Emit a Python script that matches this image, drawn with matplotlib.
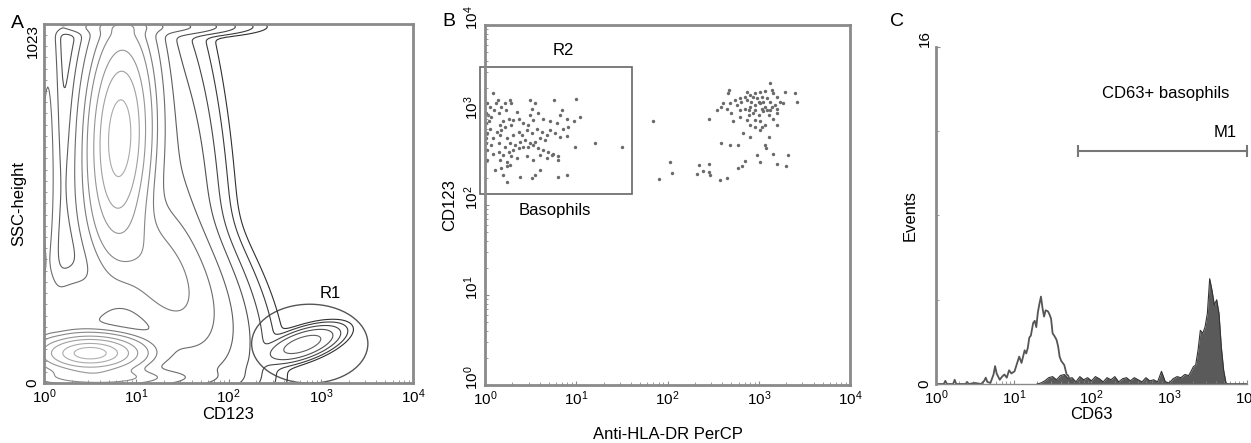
import numpy as np
import matplotlib
matplotlib.use("Agg")
import matplotlib.pyplot as plt
import matplotlib.transforms as mtransforms
from matplotlib.patches import Ellipse, Rectangle

plt.rcParams['font.family'] = ['Liberation Sans', 'DejaVu Sans']
plt.rcParams['mathtext.default'] = 'regular'

# log axes are drawn in decades (0..4 -> 10^0..10^4)
dec_ticks = [0, 1, 2, 3, 4]
dec_labels = ['$10^{0}$', '$10^{1}$', '$10^{2}$', '$10^{3}$', '$10^{4}$']

# ---- panel A: cell populations read off the SSC / CD123 contour plot
# centre (decades), centre (SSC), spread (decades), spread (SSC), correlation, peak weight
pop_x = [0.82, 0.50, 1.20, 2.80, 0.04, 0.35, 0.90, 1.45, 0.60]
pop_y = [700, 85, 330, 110, 600, 225, 1015, 520, 15]
pop_sx = [0.18, 0.30, 0.38, 0.17, 0.07, 0.25, 0.45, 0.22, 0.45]
pop_sy = [160, 28, 130, 22, 320, 55, 12, 260, 15]
pop_rho = [0.1, 0.0, -0.6, 0.6, 0.0, 0.0, 0.0, -0.3, 0.0]
pop_w = [1.0, 1.3, 0.12, 0.02, 0.04, 0.05, 0.03, 0.01, 0.2]
contour_levels = [1e-4, 3e-4, 1e-3, 3e-3, 0.01, 0.03, 0.08, 0.15, 0.3, 0.5, 0.8, 1.1]
r1_center = (2.88, 112)
r1_size = (1.26, 225)

# ---- panel B: events, anti-HLA-DR (decades) vs CD123 (decades)
baso_x = [0.09, 0.14, 0.12, 0.10, 0.05, 0.02, 0.03, 0.07, 0.15, 0.17, 0.22, 0.27, 0.29, 0.23, 0.35,
          0.49, 0.55, 0.51, 0.76, 1.00, 0.84, 0.82, 0.90, 1.04, 0.97, 0.91, 0.86, 0.79, 0.71, 0.64,
          0.58, 0.49, 0.53, 0.47, 0.42, 0.37, 0.31, 0.26, 0.20, 0.16, 0.22, 0.29, 0.18, 0.13, 0.05,
          0.02, 0.09, 0.16, 0.24, 0.31, 0.37, 0.40, 0.46, 0.51, 0.57, 0.62, 0.68, 0.71, 0.77, 0.82,
          0.90, 0.66, 0.60, 0.55, 0.49, 0.44, 0.38, 0.33, 0.27, 0.22, 0.15, 0.07, 0.02, 0.09, 0.15,
          0.20, 0.26, 0.31, 0.37, 0.42, 0.47, 0.53, 0.58, 0.64, 0.69, 0.75, 0.80, 0.99, 1.21, 1.50,
          0.16, 0.24, 0.29, 0.35, 0.46, 0.53, 0.60, 0.68, 0.73, 0.80, 0.18, 0.24, 0.27, 0.11, 0.60,
          0.55, 0.38, 0.51, 0.20, 0.24, 0.80, 0.90, 0.02, 0.01, 0.01, 0.01, 0.04, 0.01]
baso_y = [3.25, 3.17, 3.13, 3.06, 3.09, 3.13, 3.00, 2.98, 3.02, 3.09, 3.13, 3.17, 3.13, 3.06, 3.03,
          3.17, 3.13, 3.07, 3.17, 3.18, 3.06, 3.00, 2.96, 2.98, 2.93, 2.87, 2.85, 2.91, 2.93, 2.96,
          3.02, 3.00, 2.94, 2.89, 2.91, 2.96, 2.94, 2.96, 2.93, 2.89, 2.87, 2.89, 2.83, 2.81, 2.85,
          2.80, 2.74, 2.78, 2.74, 2.78, 2.81, 2.78, 2.83, 2.80, 2.85, 2.81, 2.78, 2.83, 2.80, 2.76,
          2.77, 2.72, 2.74, 2.70, 2.69, 2.72, 2.70, 2.67, 2.69, 2.65, 2.69, 2.67, 2.61, 2.57, 2.59,
          2.56, 2.59, 2.61, 2.63, 2.65, 2.64, 2.67, 2.63, 2.61, 2.59, 2.57, 2.54, 2.64, 2.69, 2.65,
          2.50, 2.48, 2.54, 2.52, 2.54, 2.50, 2.56, 2.52, 2.56, 2.50, 2.41, 2.43, 2.44, 2.39, 2.39,
          2.33, 2.31, 2.30, 2.33, 2.26, 2.31, 2.33, 2.50, 2.69, 2.91, 3.02, 2.93, 2.74]
hla_x = [3.12, 2.67, 2.66, 3.29, 3.40, 3.42, 1.84, 2.45, 2.54, 2.59, 2.68, 2.74, 2.79, 2.85, 2.90,
         2.96, 3.01, 3.07, 3.14, 3.16, 3.20, 3.23, 3.27, 2.76, 2.81, 2.87, 2.92, 2.98, 3.03, 3.09,
         3.12, 3.18, 2.79, 2.85, 2.90, 2.96, 3.01, 3.07, 3.12, 3.20, 2.70, 2.79, 2.89, 2.94, 3.00,
         3.05, 3.11, 3.16, 2.72, 2.90, 2.96, 3.03, 3.07, 3.20, 2.83, 2.90, 3.01, 3.11, 2.59, 2.68,
         2.77, 3.07, 3.08, 2.98, 3.16, 3.32, 2.85, 3.01, 3.20, 3.30, 2.77, 2.82, 2.03, 2.05, 1.91,
         2.34, 2.45, 2.39, 2.32, 2.45, 2.46, 2.58, 2.65, 2.61, 2.65, 2.87, 2.94, 3.00, 3.05, 3.14,
         3.20, 2.89, 2.96, 3.03, 3.09, 2.87, 2.96, 3.01]
hla_y = [3.36, 3.28, 3.25, 3.26, 3.25, 3.14, 2.93, 2.96, 3.06, 3.09, 3.13, 3.17, 3.19, 3.20, 3.22,
         3.24, 3.26, 3.27, 3.28, 3.24, 3.20, 3.15, 3.13, 3.11, 3.15, 3.17, 3.15, 3.19, 3.20, 3.19,
         3.15, 3.11, 3.06, 3.07, 3.09, 3.11, 3.13, 3.09, 3.06, 3.02, 3.02, 2.98, 3.00, 3.02, 3.00,
         3.04, 3.00, 2.96, 2.93, 2.89, 2.87, 2.87, 2.89, 2.89, 2.80, 2.76, 2.83, 2.76, 2.69, 2.67,
         2.67, 2.67, 2.63, 2.56, 2.57, 2.56, 2.49, 2.48, 2.46, 2.43, 2.41, 2.43, 2.48, 2.36, 2.29,
         2.44, 2.46, 2.38, 2.34, 2.37, 2.33, 2.28, 2.30, 3.13, 3.07, 3.26, 3.20, 3.15, 3.15, 3.09,
         3.07, 3.06, 3.06, 3.07, 3.06, 2.94, 2.94, 2.93]
r2_x = (-0.05, 1.61)
r2_y = (2.12, 3.53)

# ---- panel C: CD63 histograms (decades, events)
open_x = [0.00, 0.10, 0.12, 0.14, 0.22, 0.24, 0.26, 0.38, 0.40, 0.42, 0.50, 0.58, 0.62, 0.64, 0.66,
          0.70, 0.74, 0.76, 0.78, 0.82, 0.85, 0.88, 0.91, 0.94, 0.97, 1.01, 1.04, 1.07, 1.10, 1.14,
          1.16, 1.18, 1.20, 1.22, 1.25, 1.27, 1.29, 1.31, 1.33, 1.35, 1.37, 1.39, 1.41, 1.44, 1.46,
          1.48, 1.50, 1.52, 1.55, 1.57, 1.59, 1.61, 1.63, 1.65, 1.68, 1.70, 1.72, 1.74, 1.77, 4.00]
open_y = [0.0, 0.0, 0.15, 0.0, 0.0, 0.2, 0.0, 0.0, 0.1, 0.0, 0.05, 0.0, 0.15, 0.3, 0.1,
          0.05, 0.45, 0.85, 0.5, 0.2, 0.35, 0.45, 0.3, 0.65, 0.5, 0.6, 0.95, 1.3, 1.0, 1.6,
          1.45, 1.7, 2.2, 2.3, 2.9, 3.0, 2.7, 3.4, 3.8, 4.15, 3.6, 3.2, 3.5, 3.45, 3.3,
          3.1, 2.4, 2.3, 2.1, 1.8, 1.3, 1.1, 1.0, 0.9, 0.45, 0.4, 0.2, 0.1, 0.0, 0.0]
filled_x = [1.30, 1.35, 1.40, 1.45, 1.50, 1.55, 1.60, 1.65, 1.70, 1.75, 1.80, 1.85, 1.90, 1.95,
            2.00, 2.05, 2.10, 2.15, 2.20, 2.25, 2.30, 2.35, 2.40, 2.45, 2.50, 2.55, 2.60, 2.65,
            2.70, 2.75, 2.80, 2.85, 2.90, 2.95, 3.00, 3.05, 3.10, 3.15, 3.20, 3.25, 3.28, 3.31,
            3.34, 3.37, 3.40, 3.43, 3.46, 3.49, 3.52, 3.55, 3.58, 3.61, 3.64, 3.67, 3.70, 3.73, 3.76]
filled_y = [0.0, 0.05, 0.15, 0.3, 0.35, 0.2, 0.4, 0.45, 0.25, 0.3, 0.1, 0.35, 0.2, 0.3,
            0.15, 0.35, 0.25, 0.1, 0.3, 0.2, 0.35, 0.1, 0.25, 0.3, 0.15, 0.3, 0.2, 0.1,
            0.3, 0.15, 0.2, 0.1, 0.6, 0.1, 0.05, 0.25, 0.35, 0.3, 0.45, 0.4, 0.6, 0.82,
            0.9, 1.6, 2.55, 2.4, 2.7, 3.35, 5.0, 4.45, 3.75, 4.0, 3.35, 1.75, 0.65, 0.05, 0.0]
m1_x = (1.82, 4.0)
m1_y = 11.08

grey = '#8a8a8a'
fig = plt.figure(figsize=(12.51, 4.43), dpi=100)


def style_axes(ax, spines):
    for name, sp in ax.spines.items():
        sp.set_visible(name in spines)
        sp.set_color(grey)
        sp.set_linewidth(2)
    ax.tick_params(which='both', direction='in', color=grey, labelsize=11, pad=3)
    ax.tick_params(which='major', length=3)
    ax.tick_params(which='minor', length=2)


def log_xaxis(ax):
    ax.set_xlim(0, 4)
    ax.set_xticks(dec_ticks)
    ax.set_xticklabels(dec_labels)
    minor = [d + np.log10(k) for d in range(4) for k in range(2, 10)]
    ax.set_xticks(minor, minor=True)


# ---------------- A
axA = fig.add_axes([0.0352, 0.1354, 0.295, 0.8104])
gx = np.linspace(0, 4, 300)
gy = np.linspace(0, 1023, 300)
X, Y = np.meshgrid(gx, gy)
dens = np.zeros_like(X)
for cx, cy, sx, sy, r, w in zip(pop_x, pop_y, pop_sx, pop_sy, pop_rho, pop_w):
    dx = (X - cx) / sx
    dy = (Y - cy) / sy
    z = (dx**2 - 2 * r * dx * dy + dy**2) / (1 - r**2)
    dens += w * np.exp(-z / 2)
shades = ['#303030', '#3a3a3a', '#454545', '#505050', '#5e5e5e', '#6c6c6c',
          '#7a7a7a', '#888888', '#959595', '#a0a0a0', '#aaaaaa', '#b0b0b0']
axA.contour(X, Y, dens, levels=contour_levels, colors=shades, linewidths=0.8)
axA.add_patch(Ellipse(r1_center, r1_size[0], r1_size[1], fill=False,
                      edgecolor='#555555', lw=1.0, clip_on=False))
axA.text(3.1, 256, 'R1', fontsize=12, ha='center', va='center')
log_xaxis(axA)
axA.set_ylim(0, 1023)
axA.set_yticks([0, 1023])
axA.set_yticklabels(['0', '1023'], rotation=90)
axA.get_yticklabels()[0].set_va('center')
axA.get_yticklabels()[1].set_va('top')
axA.set_yticks(np.arange(0, 1023, 32), minor=True)
style_axes(axA, ['left', 'right', 'top', 'bottom'])
axA.set_xlabel('CD123', fontsize=12, labelpad=1)
axA.set_ylabel('SSC-height', fontsize=12, labelpad=0)

# ---------------- B
axB = fig.add_axes([0.3877, 0.1309, 0.2918, 0.8126])
axB.scatter(baso_x, baso_y, s=6, color='#6a6a6a', lw=0)
axB.scatter(hla_x, hla_y, s=6, color='#6a6a6a', lw=0)
axB.add_patch(Rectangle((r2_x[0], r2_y[0]), r2_x[1] - r2_x[0], r2_y[1] - r2_y[0],
                        fill=False, edgecolor='#666666', lw=1.2, clip_on=False))
axB.text(0.86, 3.72, 'R2', fontsize=12, ha='center', va='center')
axB.text(0.77, 1.94, 'Basophils', fontsize=12, ha='center', va='center')
log_xaxis(axB)
axB.set_ylim(0, 4)
axB.set_yticks(dec_ticks)
axB.set_yticklabels([])
# y labels sit a little above their ticks in the original, so place them by hand
lift = mtransforms.ScaledTranslation(0, 5 / 72, fig.dpi_scale_trans)
ylab_tr = mtransforms.blended_transform_factory(axB.transAxes, axB.transData) + lift
for d, lab in zip(dec_ticks, dec_labels):
    axB.text(-0.012, d, lab, rotation=90, fontsize=11, ha='right', va='center',
             transform=ylab_tr, clip_on=False)
axB.set_yticks([d + np.log10(k) for d in range(4) for k in range(2, 10)], minor=True)
style_axes(axB, ['left', 'right', 'top', 'bottom'])
axB.set_xlabel('Anti-HLA-DR PerCP', fontsize=12, labelpad=14)
axB.set_ylabel('CD123', fontsize=12, labelpad=17)

# ---------------- C
axC = fig.add_axes([0.7482, 0.1332, 0.2486, 0.7607])
axC.fill_between(filled_x, filled_y, color='#5a5a5a', lw=0)
axC.plot(filled_x, filled_y, color='#333333', lw=0.8)
axC.plot(open_x, open_y, color='#555555', lw=1.3)
axC.plot(m1_x, [m1_y, m1_y], color='#777777', lw=1.5, marker='|', ms=8, mew=1.5, clip_on=False)
axC.text(3.72, 11.6, 'M1', fontsize=12, ha='center', va='bottom')
axC.text(2.95, 13.8, 'CD63+ basophils', fontsize=12, ha='center', va='center')
log_xaxis(axC)
axC.set_ylim(0, 16)
axC.set_yticks([0, 16])
axC.set_yticklabels(['0', '16'], rotation=90)
axC.get_yticklabels()[0].set_va('center')
axC.get_yticklabels()[1].set_va('bottom')
axC.set_yticks([4, 8, 12], minor=True)
style_axes(axC, ['left', 'bottom'])
axC.spines['bottom'].set_linewidth(1)
axC.set_xlabel('CD63', fontsize=12, labelpad=0)
axC.set_ylabel('Events', fontsize=12, labelpad=0)

fig.text(17 / 1251, 1 - 23 / 443, 'A', fontsize=14, ha='center', va='center')
fig.text(449 / 1251, 1 - 21 / 443, 'B', fontsize=14, ha='center', va='center')
fig.text(897 / 1251, 1 - 21 / 443, 'C', fontsize=14, ha='center', va='center')

fig.savefig('out.png', dpi=100)
